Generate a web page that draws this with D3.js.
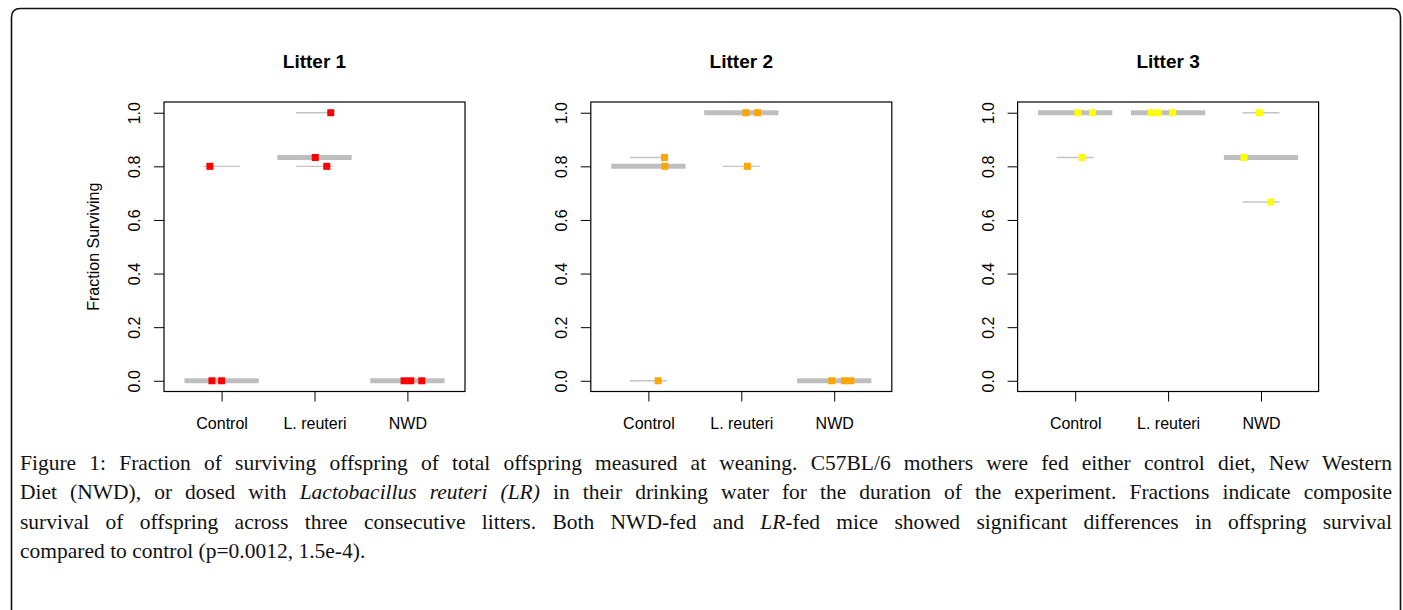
<!DOCTYPE html>
<html>
<head>
<meta charset="utf-8">
<script src="https://cdn.jsdelivr.net/npm/d3@7"></script>
<style>
  html, body { margin: 0; padding: 0; background: #fff; }
  #wrap { position: relative; width: 1403px; height: 610px; overflow: hidden; }
  svg { display: block; position: absolute; left: 0; top: 0; }
  .cap { position: absolute; left: 20px; width: 1372px; white-space: nowrap;
         font-family: 'Liberation Serif', 'Times New Roman', serif; color: #111;
         line-height: 29px; }
  .cap.j { text-align: justify; text-align-last: justify; white-space: normal; }
</style>
</head>
<body>
<div id="wrap">
<svg id="chart" width="1403" height="610"></svg>
</div>
<script>
// ---------------- data ----------------
const categories = ["Control", "L. reuteri", "NWD"];
const litters = ["Litter 1", "Litter 2", "Litter 3"];
const litterColors = ["#ff0000", "#ffa500", "#ffff00"];
const yTicks = [0, 0.2, 0.4, 0.6, 0.8, 1.0];
const yLabel = "Fraction Surviving";

// fraction surviving per mother, per group (Control, L. reuteri, NWD)
const litter1Values = [[0.8, 0, 0], [1.0, 0.833, 0.8], [0, 0, 0]];
const litter2Values = [[0.833, 0.8, 0], [1.0, 1.0, 0.8], [0, 0, 0]];
const litter3Values = [[1.0, 1.0, 0.833], [1.0, 1.0, 1.0], [1.0, 0.833, 0.667]];

// horizontal jitter of each point (in category units)
const litter1Jitter = [[-0.126, -0.104, 0.0], [0.175, 0.008, 0.132], [-0.036, 0.036, 0.155]];
const litter2Jitter = [[0.173, 0.177, 0.105], [0.05, 0.176, 0.065], [-0.026, 0.11, 0.18]];
const litter3Jitter = [[0.03, 0.187, 0.075], [-0.183, -0.104, 0.05], [-0.018, -0.183, 0.105]];

const allValues = [litter1Values, litter2Values, litter3Values];
const allJitter = [litter1Jitter, litter2Jitter, litter3Jitter];

// caption lines: [text, italic]
const captionLines = [
  [["Figure 1: Fraction of surviving offspring of total offspring measured at weaning. C57BL/6 mothers were fed either control diet, New Western", false]],
  [["Diet (NWD), or dosed with ", false], ["Lactobacillus reuteri (LR)", true], [" in their drinking water for the duration of the experiment. Fractions indicate composite", false]],
  [["survival of offspring across three consecutive litters. Both NWD-fed and ", false], ["LR", true], ["-fed mice showed significant differences in offspring survival", false]],
  [["compared to control (p=0.0012, 1.5e-4).", false]]
];

// ---------------- layout ----------------
const svg = d3.select("#chart");
const W = 1403, H = 610;
const panelLeft0 = 164, panelStep = 426.8, panelW = 301;
const plotTop = 102, plotBottom = 391.5;
const sans = "'Liberation Sans', Arial, sans-serif";

// outer frame with rounded top corners, open at the bottom
const fx0 = 11.5, fx1 = 1400.5, fy0 = 8.5, r = 9;
svg.append("path")
  .attr("d", `M${fx0},${H + 2} L${fx0},${fy0 + r} Q${fx0},${fy0} ${fx0 + r},${fy0} L${fx1 - r},${fy0} Q${fx1},${fy0} ${fx1},${fy0 + r} L${fx1},${H + 2}`)
  .attr("fill", "none").attr("stroke", "#111").attr("stroke-width", 1.6);

litters.forEach((title, li) => {
  const left = panelLeft0 + li * panelStep;
  const x = d3.scaleLinear().domain([0.38, 3.62]).range([left, left + panelW]);
  const y = d3.scaleLinear().domain([-0.04, 1.04]).range([plotBottom, plotTop]);
  const g = svg.append("g");
  const values = allValues[li], jit = allJitter[li];

  g.append("text")
    .attr("x", left + panelW / 2).attr("y", 68)
    .attr("text-anchor", "middle")
    .attr("font-family", sans).attr("font-weight", "bold").attr("font-size", 19)
    .text(title);

  const ya = g.append("g").attr("transform", `translate(${left},0)`)
    .call(d3.axisLeft(y).tickValues(yTicks).tickFormat(d3.format(".1f")).tickSize(10));
  ya.select(".domain").remove();
  ya.selectAll(".tick line").attr("stroke", "#000").attr("stroke-width", 1);
  ya.selectAll(".tick text")
    .attr("x", null).attr("dy", null)
    .attr("transform", "translate(-24,0) rotate(-90)")
    .attr("text-anchor", "middle")
    .attr("font-family", sans).attr("font-size", 16).attr("fill", "#000");

  const xa = g.append("g").attr("transform", `translate(0,${plotBottom})`)
    .call(d3.axisBottom(x).tickValues([1, 2, 3]).tickFormat((d) => categories[d - 1]).tickSize(10));
  xa.select(".domain").remove();
  xa.selectAll(".tick line").attr("stroke", "#000").attr("stroke-width", 1);
  xa.selectAll(".tick text")
    .attr("y", 37).attr("dy", null)
    .attr("font-family", sans).attr("font-size", 16).attr("fill", "#000");

  if (li === 0) {
    g.append("text")
      .attr("transform", `translate(99,${(plotTop + plotBottom) / 2}) rotate(-90)`)
      .attr("text-anchor", "middle")
      .attr("font-family", sans).attr("font-size", 16)
      .text(yLabel);
  }

  values.forEach((vals, ci) => {
    vals.forEach((v) => {
      g.append("line")
        .attr("x1", x(ci + 1 - 0.2)).attr("x2", x(ci + 1 + 0.2))
        .attr("y1", y(v)).attr("y2", y(v))
        .attr("stroke", "#c4c4c4").attr("stroke-width", 1.4);
    });
  });
  values.forEach((vals, ci) => {
    const m = d3.median(vals);
    g.append("line")
      .attr("x1", x(ci + 1 - 0.4)).attr("x2", x(ci + 1 + 0.4))
      .attr("y1", y(m)).attr("y2", y(m))
      .attr("stroke", "#bebebe").attr("stroke-width", 5);
  });
  const s = 7;
  values.forEach((vals, ci) => {
    vals.forEach((v, k) => {
      g.append("rect")
        .attr("x", x(ci + 1 + jit[ci][k]) - s / 2).attr("y", y(v) - s / 2)
        .attr("width", s).attr("height", s)
        .attr("fill", litterColors[li]);
    });
  });

  g.append("rect")
    .attr("x", left).attr("y", plotTop)
    .attr("width", panelW).attr("height", plotBottom - plotTop)
    .attr("fill", "none").attr("stroke", "#000").attr("stroke-width", 1.2);
});

// ---------------- caption ----------------
const capFont = 21.5, capTop0 = 448.5, capLead = 29.5;
const wrap = d3.select("#wrap");
captionLines.forEach((parts, i) => {
  const d = wrap.append("div")
    .attr("class", i < 3 ? "cap j" : "cap")
    .style("top", (capTop0 + i * capLead) + "px")
    .style("font-size", capFont + "px");
  parts.forEach(([txt, it]) => {
    d.append("span").style("font-style", it ? "italic" : "normal").text(txt);
  });
});
</script>
</body>
</html>
